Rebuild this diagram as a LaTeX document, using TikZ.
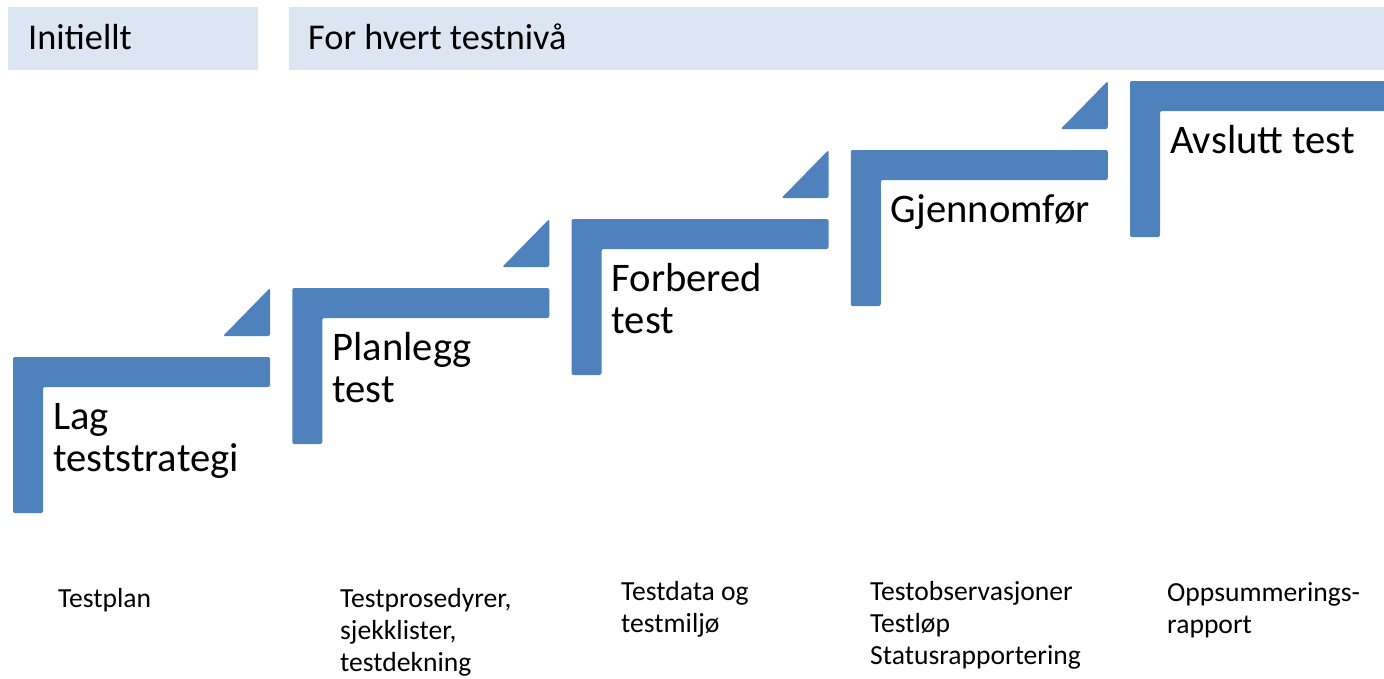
\documentclass[tikz,border=0pt]{standalone}
\usepackage{fontspec}
\setmainfont{Carlito}
\definecolor{stepblue}{HTML}{4F81BD}
\definecolor{hdrfill}{HTML}{DCE6F2}
\tikzset{
  stepshape/.style={fill=stepblue, rounded corners=2pt},
  hdrbox/.style={fill=hdrfill},
  hdrtext/.style={anchor=base west, inner sep=0pt, font={\fontsize{36.3}{40}\selectfont}},
  steplabel/.style={anchor=base west, inner sep=0pt, align=left, font={\fontsize{40.6}{42}\selectfont}},
  outlabel/.style={anchor=base west, inner sep=0pt, align=left, font={\fontsize{27.6}{32}\selectfont}}
}
\begin{document}
\begin{tikzpicture}[x=1pt,y=-1pt]
\useasboundingbox (0,0) rectangle (1384,678);
\clip (0,0) rectangle (1384,678);
\fill[white] (0,0) rectangle (1384,678);
% header
\fill[hdrbox] (8,7) rectangle (258,70);
\fill[hdrbox] (289,7) rectangle (1384,70);
\node[hdrtext] (h1) at (28,49) {Initiellt};
\node[hdrtext] (h2) at (308,49) {For hvert testnivå};
% steps
\foreach \i in {0,1,2,3,4}{
  \pgfmathsetmacro\L{13+279.25*\i}
  \pgfmathsetmacro\T{357-69*\i}
  \fill[stepshape] (\L,\T) -- ++(257,0) -- ++(0,30) -- ++(-227,0) -- ++(0,126) -- ++(-30,0) -- cycle;
}
\foreach \i in {0,1,2,3}{
  \pgfmathsetmacro\L{13+279.25*\i}
  \pgfmathsetmacro\T{357-69*\i}
  \fill[stepshape] (\L+257,\T-69) -- (\L+257,\T-21) -- (\L+210,\T-21) -- cycle;
}
% step labels (base anchor = last line baseline)
\node[steplabel] (s1) at (53,471) {Lag\\teststrategi};
\node[steplabel] (s2) at (332.25,402) {Planlegg\\test};
\node[steplabel] (s3) at (611.5,333) {Forbered\\test};
\node[steplabel] (s4) at (890.75,222) {Gjennomfør};
\node[steplabel] (s5) at (1170,153) {Avslutt test};
% outputs
\node[outlabel] (o1) at (58,607) {Testplan};
\node[outlabel] (o2) at (340,671) {Testprosedyrer,\\sjekklister,\\testdekning};
\node[outlabel] (o3) at (621,632) {Testdata og\\testmiljø};
\node[outlabel] (o4) at (870,664) {Testobservasjoner\\Testløp\\Statusrapportering};
\node[outlabel] (o5) at (1167,633) {Oppsummerings-\\rapport};
\end{tikzpicture}
\end{document}
